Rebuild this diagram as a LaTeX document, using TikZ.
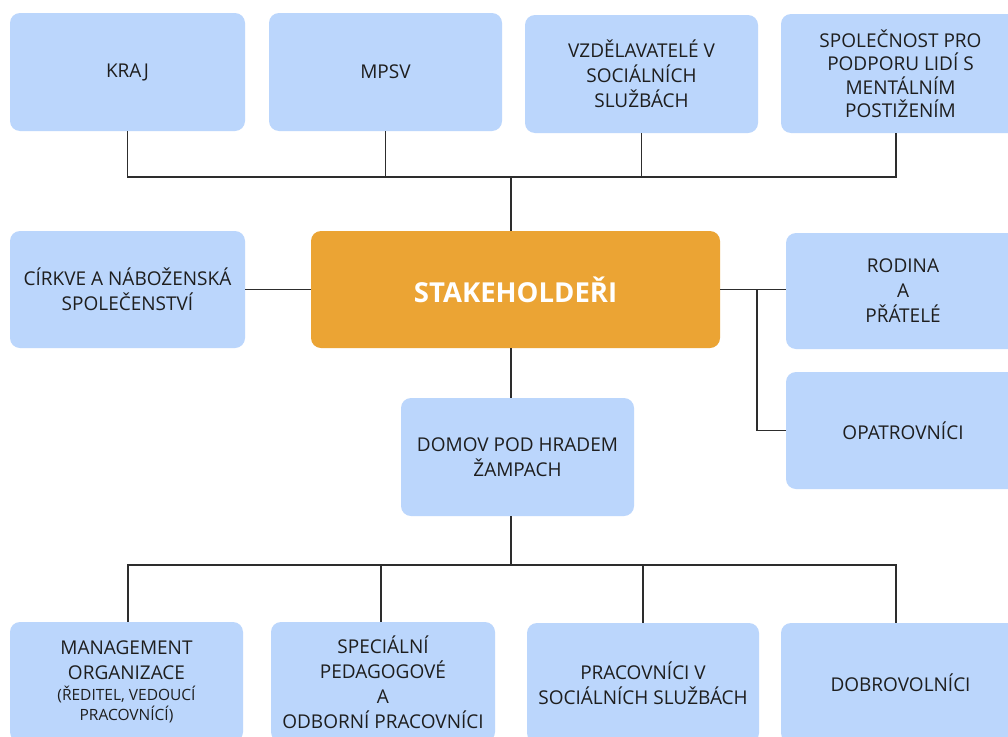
\documentclass[tikz,border=0pt]{standalone}
\usepackage{fontspec}
\setmainfont{Open Sans}
\definecolor{boxblue}{RGB}{187,214,252}
\definecolor{boxorange}{RGB}{235,164,52}
\definecolor{linegray}{RGB}{45,45,45}
\definecolor{txt}{RGB}{30,30,30}
\tikzset{
  bbox/.style={fill=boxblue, rounded corners=10pt, inner sep=0pt, align=center,
    text=txt, font=\fontsize{19}{25}\selectfont},
  obox/.style={fill=boxorange, rounded corners=10pt, inner sep=0pt, align=center,
    text=white, font=\fontsize{27.5}{32}\selectfont\bfseries},
  conn/.style={draw=linegray, line width=1.4pt}
}
\begin{document}
\begin{tikzpicture}[x=1pt,y=-1pt]
\useasboundingbox (0,0) rectangle (1008,736);
\clip (0,0) rectangle (1008,736);
\fill[white] (0,0) rectangle (1008,736);
% top row
\node[bbox, minimum width=235, minimum height=118] (kraj) at (127.5,72) {KRAJ};
\node[bbox, minimum width=233, minimum height=118] (mpsv) at (385.5,72) {MPSV};
\node[bbox, minimum width=233, minimum height=118] (vzd) at (641.5,74) {VZDĚLAVATELÉ V\\SOCIÁLNÍCH\\SLUŽBÁCH};
\node[bbox, minimum width=239, minimum height=119, font=\fontsize{19}{23.5}\selectfont] (spol) at (900.5,73.5) {SPOLEČNOST PRO\\PODPORU LIDÍ S\\MENTÁLNÍM\\POSTIŽENÍM};
% middle row
\node[bbox, minimum width=235, minimum height=117] (cirkve) at (127.5,289.5) {CÍRKVE A NÁBOŽENSKÁ\\SPOLEČENSTVÍ};
\node[obox, minimum width=409, minimum height=117] (stake) at (515.5,289.5) {STAKEHOLDEŘI};
\node[bbox, minimum width=234, minimum height=116] (rodina) at (903,291) {RODINA\\A\\PŘÁTELÉ};
\node[bbox, minimum width=234, minimum height=117] (opat) at (903,430.5) {OPATROVNÍCI};
\node[bbox, minimum width=233, minimum height=118] (domov) at (517.5,457) {DOMOV POD HRADEM\\ŽAMPACH};
% bottom row
\node[bbox, minimum width=233, minimum height=120] (mgmt) at (126.5,682) {MANAGEMENT\\ORGANIZACE\\[-4pt]{\fontsize{15.5}{19}\selectfont (ŘEDITEL, VEDOUCÍ}\\[-5pt]{\fontsize{15.5}{19}\selectfont PRACOVNÍCÍ)}};
\node[bbox, minimum width=224, minimum height=120] (spec) at (383,682) {SPECIÁLNÍ\\PEDAGOGOVÉ\\A\\ODBORNÍ PRACOVNÍCI};
\node[bbox, minimum width=232, minimum height=120] (prac) at (643,683) {PRACOVNÍCI V\\SOCIÁLNÍCH SLUŽBÁCH};
\node[bbox, minimum width=239, minimum height=120] (dobro) at (900.5,683) {DOBROVOLNÍCI};
% helper coordinates
\coordinate (spine) at (511,0);
\coordinate (topbus) at (511,177);
\coordinate (botbus) at (511,565);
\coordinate (branch) at (757,0);
% top connectors
\draw[conn] (kraj.south) -- (kraj.south |- topbus) -- ([xshift=-4.5pt]spol.south |- topbus) -- ([xshift=-4.5pt]spol.south);
\draw[conn] (mpsv.south) -- (mpsv.south |- topbus);
\draw[conn] (vzd.south) -- (vzd.south |- topbus);
\draw[conn] (topbus) -- (spine |- stake.north);
% middle connectors
\draw[conn] (cirkve.east) -- (stake.west);
\draw[conn] (stake.east) -- (stake.east -| rodina.west);
\draw[conn] (stake.east -| branch) |- (opat.west);
\draw[conn] (spine |- stake.south) -- (spine |- domov.north);
% bottom connectors
\draw[conn] (spine |- domov.south) -- (botbus);
\draw[conn] ([xshift=1.5pt]mgmt.north) -- ([xshift=1.5pt]mgmt.north |- botbus) -- ([xshift=-4.5pt]dobro.north |- botbus) -- ([xshift=-4.5pt]dobro.north);
\draw[conn] ([xshift=-2pt]spec.north) -- ([xshift=-2pt]spec.north |- botbus);
\draw[conn] (prac.north) -- (prac.north |- botbus);
\end{tikzpicture}
\end{document}
